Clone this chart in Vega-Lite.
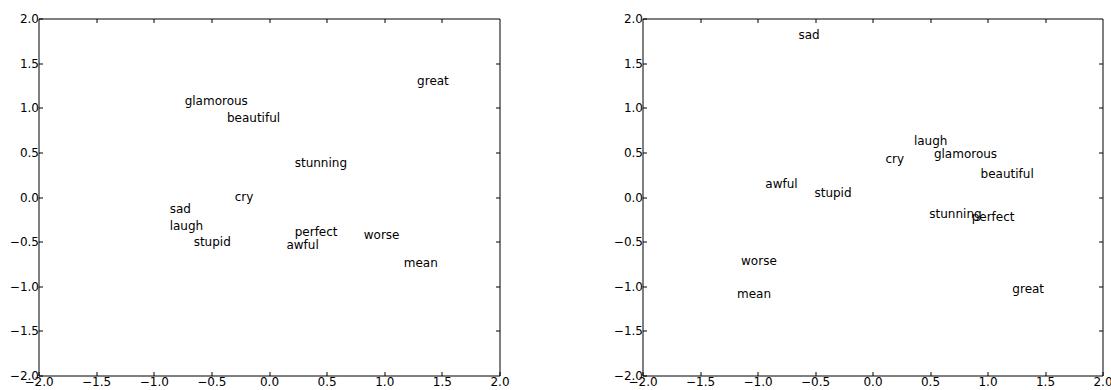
{
  "$schema": "https://vega.github.io/schema/vega-lite/v6.json",
  "padding": {"left": 8.5, "top": 11.5, "right": 5, "bottom": 5},
  "bounds": "flush",
  "spacing": 143,
  "background": "white",
  "datasets": {
    "words": [
      {"panel": "left", "word": "glamorous", "x": -0.732, "y": 1.03},
      {"panel": "left", "word": "beautiful", "x": -0.365, "y": 0.842},
      {"panel": "left", "word": "cry", "x": -0.298, "y": -0.048},
      {"panel": "left", "word": "great", "x": 1.285, "y": 1.254},
      {"panel": "left", "word": "stunning", "x": 0.223, "y": 0.34},
      {"panel": "left", "word": "sad", "x": -0.862, "y": -0.179},
      {"panel": "left", "word": "laugh", "x": -0.862, "y": -0.373},
      {"panel": "left", "word": "stupid", "x": -0.654, "y": -0.553},
      {"panel": "left", "word": "perfect", "x": 0.223, "y": -0.44},
      {"panel": "left", "word": "awful", "x": 0.151, "y": -0.579},
      {"panel": "left", "word": "worse", "x": 0.822, "y": -0.471},
      {"panel": "left", "word": "mean", "x": 1.169, "y": -0.788},
      {"panel": "right", "word": "sad", "x": -0.644, "y": 1.774},
      {"panel": "right", "word": "awful", "x": -0.932, "y": 0.102},
      {"panel": "right", "word": "stupid", "x": -0.505, "y": 0.005},
      {"panel": "right", "word": "laugh", "x": 0.36, "y": 0.581},
      {"panel": "right", "word": "glamorous", "x": 0.534, "y": 0.438},
      {"panel": "right", "word": "cry", "x": 0.113, "y": 0.382},
      {"panel": "right", "word": "beautiful", "x": 0.94, "y": 0.214},
      {"panel": "right", "word": "worse", "x": -1.143, "y": -0.766},
      {"panel": "right", "word": "mean", "x": -1.178, "y": -1.133},
      {"panel": "right", "word": "stunning", "x": 0.494, "y": -0.235},
      {"panel": "right", "word": "perfect", "x": 0.862, "y": -0.264},
      {"panel": "right", "word": "great", "x": 1.216, "y": -1.077}
    ]
  },
  "config": {
    "view": {"stroke": "black", "strokeWidth": 1},
    "axis": {
      "grid": false,
      "domain": false,
      "tickColor": "black",
      "tickSize": -4,
      "labelColor": "black",
      "labelFont": "DejaVu Sans",
      "labelFontSize": 12,
      "labelPadding": 4,
      "title": null
    },
    "axisBottom": {"labelPadding": 5}
  },
  "hconcat": [
    {
      "width": 461,
      "height": 357,
      "data": {"name": "words"},
      "transform": [{"filter": "datum.panel == 'left'"}],
      "layer": [
        {
          "mark": {"type": "text", "align": "left", "baseline": "alphabetic", "font": "DejaVu Sans", "fontSize": 12, "color": "black"},
          "encoding": {
            "x": {"field": "x", "type": "quantitative", "scale": {"domain": [-2, 2], "nice": false, "zero": false},
                  "axis": {"orient": "bottom", "values": [-2, -1.5, -1, -0.5, 0, 0.5, 1, 1.5, 2], "format": ".1f", "labelFlush": false}},
            "y": {"field": "y", "type": "quantitative", "scale": {"domain": [-2, 2], "nice": false, "zero": false},
                  "axis": {"orient": "left", "values": [-2, -1.5, -1, -0.5, 0, 0.5, 1, 1.5, 2], "format": ".1f", "labelFlush": false}},
            "text": {"field": "word"}
          }
        },
        {
          "mark": {"type": "point", "opacity": 0},
          "encoding": {
            "x": {"field": "x", "type": "quantitative", "scale": {"domain": [-2, 2], "nice": false, "zero": false},
                  "axis": {"orient": "top", "values": [-1.5, -1, -0.5, 0, 0.5, 1, 1.5], "labels": false, "minExtent": 0, "maxExtent": 0}},
            "y": {"field": "y", "type": "quantitative", "scale": {"domain": [-2, 2], "nice": false, "zero": false},
                  "axis": {"orient": "right", "values": [-1.5, -1, -0.5, 0, 0.5, 1, 1.5], "labels": false, "minExtent": 0, "maxExtent": 0}}
          }
        }
      ],
      "resolve": {"axis": {"x": "independent", "y": "independent"}}
    },
    {
      "width": 460,
      "height": 357,
      "data": {"name": "words"},
      "transform": [{"filter": "datum.panel == 'right'"}],
      "layer": [
        {
          "mark": {"type": "text", "align": "left", "baseline": "alphabetic", "font": "DejaVu Sans", "fontSize": 12, "color": "black"},
          "encoding": {
            "x": {"field": "x", "type": "quantitative", "scale": {"domain": [-2, 2], "nice": false, "zero": false},
                  "axis": {"orient": "bottom", "values": [-2, -1.5, -1, -0.5, 0, 0.5, 1, 1.5, 2], "format": ".1f", "labelFlush": false}},
            "y": {"field": "y", "type": "quantitative", "scale": {"domain": [-2, 2], "nice": false, "zero": false},
                  "axis": {"orient": "left", "values": [-2, -1.5, -1, -0.5, 0, 0.5, 1, 1.5, 2], "format": ".1f", "labelFlush": false}},
            "text": {"field": "word"}
          }
        },
        {
          "mark": {"type": "point", "opacity": 0},
          "encoding": {
            "x": {"field": "x", "type": "quantitative", "scale": {"domain": [-2, 2], "nice": false, "zero": false},
                  "axis": {"orient": "top", "values": [-1.5, -1, -0.5, 0, 0.5, 1, 1.5], "labels": false, "minExtent": 0, "maxExtent": 0}},
            "y": {"field": "y", "type": "quantitative", "scale": {"domain": [-2, 2], "nice": false, "zero": false},
                  "axis": {"orient": "right", "values": [-1.5, -1, -0.5, 0, 0.5, 1, 1.5], "labels": false, "minExtent": 0, "maxExtent": 0}}
          }
        }
      ],
      "resolve": {"axis": {"x": "independent", "y": "independent"}}
    }
  ]
}
